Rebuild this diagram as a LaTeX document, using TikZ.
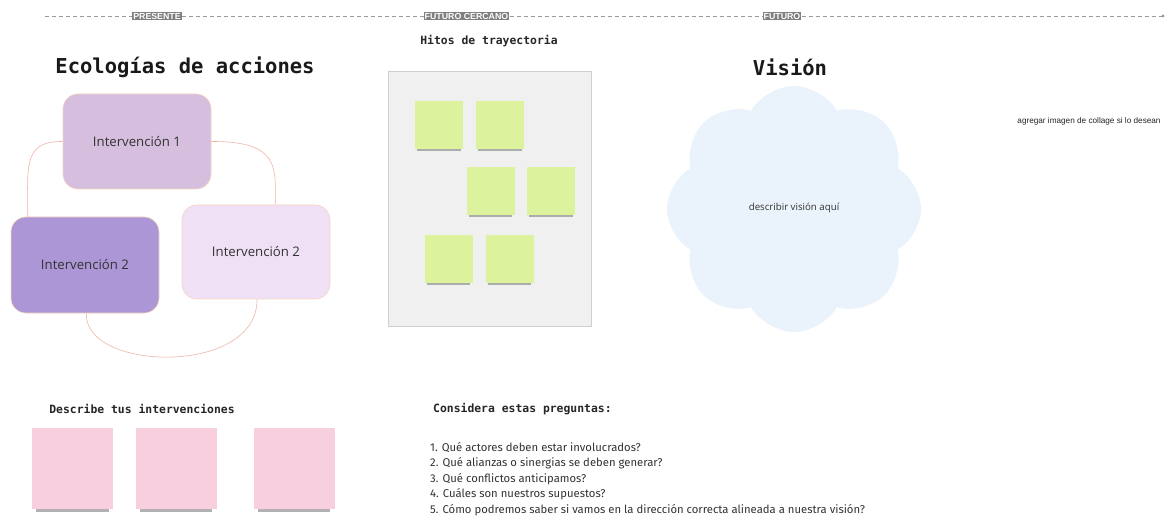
\documentclass[tikz,border=0pt]{standalone}
\usepackage{fontspec}
\setmainfont{Open Sans}
\newfontfamily\monobold{DejaVu Sans Mono}
\newfontfamily\arialfont{Liberation Sans}
\newfontfamily\listfont{Fira Sans}
\usetikzlibrary{shapes.symbols,shadows}

\definecolor{tagGray}{HTML}{7F7F7F}
\definecolor{lineGray}{HTML}{9A9A9A}
\definecolor{txtGray}{HTML}{333333}
\definecolor{lilaA}{HTML}{D6BEDE}
\definecolor{lilaB}{HTML}{AC96D6}
\definecolor{lilaC}{HTML}{EFE0F5}
\definecolor{peach}{HTML}{F5D6BD}
\definecolor{salmon}{HTML}{F0B6A6}
\definecolor{boardGray}{HTML}{F0F0F0}
\definecolor{boardEdge}{HTML}{CFCFCF}
\definecolor{lime}{HTML}{DCF29C}
\definecolor{rosa}{HTML}{F7CFDE}
\definecolor{cloudBlue}{HTML}{EAF2FB}

\tikzset{
  tag/.style={fill=tagGray,text=white,inner sep=1pt,
    font=\arialfont\bfseries\fontsize{8.8}{8.8}\selectfont},
  bigtitle/.style={text=black!90,font=\monobold\bfseries\fontsize{20.5}{20.5}\selectfont},
  smalltitle/.style={text=black!85,font=\monobold\bfseries\fontsize{11.4}{11.4}\selectfont},
  interv/.style={draw=peach,line width=0.6pt,rounded corners=15pt,
    minimum width=148pt,inner sep=0pt,text=txtGray,
    font=\fontsize{13.2}{13.2}\selectfont},
  link/.style={draw=salmon,line width=0.6pt},
  sticky/.style 2 args={inner sep=0pt,minimum size=#1,
    drop shadow={shadow xshift=0pt,shadow yshift=#2,
      shadow scale=0.9,opacity=0.6}},
}

\begin{document}
\begin{tikzpicture}[x=1pt,y=-1pt]
\useasboundingbox[fill=white] (0,0) rectangle (1166,518);

% linea de tiempo
\coordinate (tl start) at (45,16);
\coordinate (tl end) at (1163,16);
\node[tag] (presente) at (157,16) {PRESENTE};
\node[tag] (cercano) at (466.5,16) {FUTURO CERCANO};
\node[tag] (futuro) at (782,16) {FUTURO};
\draw[lineGray,line width=0.8pt,dash pattern=on 4pt off 3pt]
  (tl start) -- (presente) -- (cercano) -- (futuro) -- (tl end);
\fill[lineGray] (tl end) circle (1.6);

% ecologias
\node[bigtitle] (eco) at (185,67) {Ecologías de acciones};
\node[interv,fill=lilaA,minimum height=95pt] (i1) at (137,141.5) {Intervención 1};
\node[interv,fill=lilaB,minimum height=96pt] (i2a) at (85,265) {Intervención 2};
\node[interv,fill=lilaC,minimum height=94pt] (i2b) at (256,252) {Intervención 2};
\draw[link] (i1.west) .. controls (22,141) and (28,168) .. ([xshift=17pt]i2a.north west);
\draw[link] (i1.east) .. controls (282,141) and (275,170) .. ([xshift=-55pt]i2b.north east);
\draw[link] ([xshift=-73pt]i2a.south east) .. controls (84,372) and (258,376) .. ([xshift=1pt]i2b.south);

% hitos
\node[smalltitle] (hitos) at (489,41) {Hitos de trayectoria};
\node[draw=boardEdge,fill=boardGray,line width=0.8pt,minimum width=203pt,
  minimum height=255pt] (board) at (489.5,198.5) {};
\node[sticky={48pt}{-5pt},fill=lime] (g1) at (439,125) {};
\node[sticky={48pt}{-5pt},fill=lime] (g2) at (500,125) {};
\node[sticky={48pt}{-5pt},fill=lime] (g3) at (490.5,191) {};
\node[sticky={48pt}{-5pt},fill=lime] (g4) at (551,191) {};
\node[sticky={48pt}{-5pt},fill=lime] (g5) at (448.5,259) {};
\node[sticky={48pt}{-5pt},fill=lime] (g6) at (509.5,259) {};

% vision
\node[bigtitle] (vis) at (790,67) {Visión};
\node[cloud,cloud puffs=8,cloud puff arc=120,aspect=1,fill=cloudBlue,
  minimum width=254pt,minimum height=246pt,inner sep=0pt] (nube) at (794,209) {};
\node[text=txtGray,font=\fontsize{9.7}{9.7}\selectfont] (nubetxt) at (794,208)
  {describir visión aquí};
\node[text=black!85,font=\arialfont\fontsize{8.2}{8.2}\selectfont] (collage)
  at (1089,121) {agregar imagen de collage si lo desean};

% intervenciones
\node[smalltitle] (desc) at (142,409) {Describe tus intervenciones};
\node[sticky={81pt}{-8pt},fill=rosa] (p1) at (72.5,468.5) {};
\node[sticky={81pt}{-8pt},fill=rosa] (p2) at (176,468.5) {};
\node[sticky={81pt}{-8pt},fill=rosa] (p3) at (294,468.5) {};

% preguntas
\node[smalltitle,anchor=west,inner sep=0pt] (cons) at (433,409) {Considera estas preguntas:};
\node[anchor=west,align=left,text=txtGray,inner sep=0pt,
  font=\listfont\fontsize{11.3}{15.5}\selectfont] (preg) at (430,479)
  {1. Qué actores deben estar involucrados?\\
   2. Qué alianzas o sinergias se deben generar?\\
   3. Qué conflictos anticipamos?\\
   4. Cuáles son nuestros supuestos?\\
   5. Cómo podremos saber si vamos en la dirección correcta alineada a nuestra visión?};
\end{tikzpicture}
\end{document}
